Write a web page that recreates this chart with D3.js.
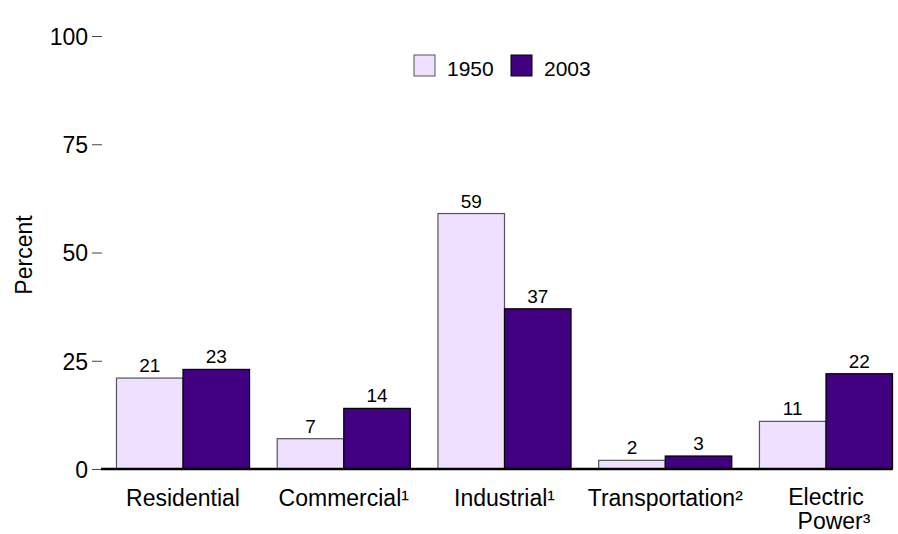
<!DOCTYPE html>
<html>
<head>
<meta charset="utf-8">
<script src="https://cdn.jsdelivr.net/npm/d3@7"></script>
<style>
  body { margin: 0; background: #fff; }
  text { font-family: Arial, "Liberation Sans", sans-serif; fill: #000; }
</style>
</head>
<body>
<div id="chart"></div>
<script>
// categories and series
var sectors = ['Residential', 'Commercial¹', 'Industrial¹', 'Transportation²', 'Electric Power³'];
var years = ['1950', '2003'];
var values1950 = [21, 7, 59, 2, 11];
var values2003 = [23, 14, 37, 3, 22];
var yTicks = [0, 25, 50, 75, 100];

var width = 898,
    height = 534;

var colors = { '1950': '#efe0ff', '2003': '#400080' };
var strokes = { '1950': '#555555', '2003': '#000000' };

var svg = d3.select('#chart')
  .append('svg')
  .attr('width', width)
  .attr('height', height);

// scales
var x = d3.scaleBand()
  .domain(sectors)
  .range([102, 907])
  .paddingInner(0.172)
  .paddingOuter(0.09);

var x1 = d3.scaleBand()
  .domain(years)
  .range([0, x.bandwidth()]);

var y = d3.scaleLinear()
  .domain([0, 100])
  .range([469, 36]);

// y axis
var yAxis = svg.append('g')
  .attr('transform', 'translate(102,0)')
  .call(d3.axisLeft(y).tickValues(yTicks).tickSize(10).tickPadding(4));
yAxis.select('.domain').remove();
yAxis.selectAll('.tick line').attr('stroke', '#444');
yAxis.selectAll('.tick text')
  .style('font-size', '23px')
  .attr('dy', '0.36em')
  .attr('font-family', null);

svg.append('text')
  .attr('transform', 'translate(32,255) rotate(-90)')
  .attr('text-anchor', 'middle')
  .style('font-size', '23px')
  .text('Percent');

// bars
var rows = sectors.map(function(s, i) {
  return { sector: s, vals: [
    { year: '1950', value: values1950[i] },
    { year: '2003', value: values2003[i] }
  ] };
});

var groups = svg.selectAll('g.group')
  .data(rows)
  .enter()
  .append('g')
  .attr('class', 'group')
  .attr('transform', function(d) { return 'translate(' + x(d.sector) + ',0)'; });

groups.selectAll('rect')
  .data(function(d) { return d.vals; })
  .enter()
  .append('rect')
  .attr('x', function(d) { return x1(d.year); })
  .attr('y', function(d) { return y(d.value); })
  .attr('width', x1.bandwidth())
  .attr('height', function(d) { return y(0) - y(d.value); })
  .attr('fill', function(d) { return colors[d.year]; })
  .attr('stroke', function(d) { return strokes[d.year]; })
  .attr('stroke-width', 1.2);

groups.selectAll('text.val')
  .data(function(d) { return d.vals; })
  .enter()
  .append('text')
  .attr('class', 'val')
  .attr('x', function(d) { return x1(d.year) + x1.bandwidth() / 2; })
  .attr('y', function(d) { return y(d.value) - 6; })
  .attr('text-anchor', 'middle')
  .style('font-size', '19px')
  .text(function(d) { return d.value; });

// baseline
svg.append('line')
  .attr('x1', 101)
  .attr('x2', x(sectors[sectors.length - 1]) + x.bandwidth())
  .attr('y1', y(0))
  .attr('y2', y(0))
  .attr('stroke', '#000')
  .attr('stroke-width', 2.5);

// category labels (wrap two-word names)
groups.append('text')
  .attr('text-anchor', 'middle')
  .style('font-size', '23px')
  .each(function(d) {
    var t = d3.select(this);
    var words = d.sector === 'Electric Power³' ? ['Electric', 'Power³'] : [d.sector];
    words.forEach(function(w, i) {
      t.append('tspan')
        .attr('x', x.bandwidth() / 2 + i * 8)
        .attr('y', (words.length > 1 ? 505 : 506) + i * 24)
        .text(w);
    });
  });

// legend
var legend = svg.append('g').attr('transform', 'translate(414,55)');
var legendX = [0, 97];
years.forEach(function(yr, i) {
  var g = legend.append('g').attr('transform', 'translate(' + legendX[i] + ',0)');
  g.append('rect')
    .attr('width', 21)
    .attr('height', 21)
    .attr('fill', colors[yr])
    .attr('stroke', strokes[yr]);
  g.append('text')
    .attr('x', 33)
    .attr('y', 21)
    .style('font-size', '21px')
    .text(yr);
});
</script>
</body>
</html>
